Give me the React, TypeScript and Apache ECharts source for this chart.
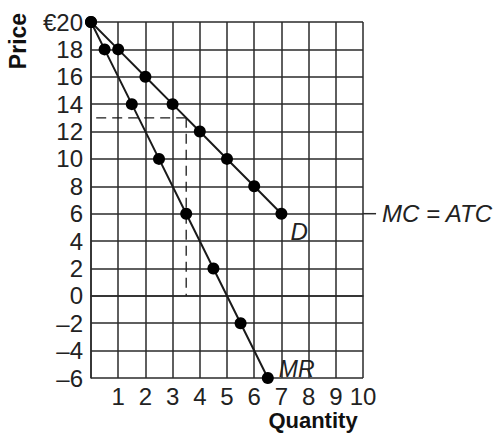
import React, { useEffect, useRef } from "react";
import * as echarts from "echarts";

const xTicks = [0, 1, 2, 3, 4, 5, 6, 7, 8, 9, 10];
const yTicks = [-6, -4, -2, 0, 2, 4, 6, 8, 10, 12, 14, 16, 18, 20];
const demandQ = [0, 1, 2, 3, 4, 5, 6, 7];
const demandP = [20, 18, 16, 14, 12, 10, 8, 6];
const mrQ = [0, 0.5, 1.5, 2.5, 3.5, 4.5, 5.5, 6.5];
const mrP = [20, 18, 14, 10, 6, 2, -2, -6];
const mcAtc = 6;
const mcLineEndQ = 10.48;
const profitQ = 3.5;
const profitP = 13;

export default function App() {
  const ref = useRef<HTMLDivElement>(null);
  useEffect(() => {
    if (!ref.current) return;
    const chart = echarts.init(ref.current, undefined, { renderer: "svg" });
    const font = "Liberation Sans, Arial, sans-serif";
    const lineC = "#1a1a1a";
    const gridC = "#2a2a2a";
    const dLast = demandQ.length - 1;
    const mLast = mrQ.length - 1;
    chart.setOption({
      animation: false,
      backgroundColor: "#ffffff",
      grid: { left: 91, right: 137, top: 22, bottom: 55, containLabel: false },
      xAxis: {
        type: "value",
        min: xTicks[0],
        max: xTicks[xTicks.length - 1],
        interval: 1,
        axisLine: { show: true, lineStyle: { color: gridC, width: 1.5 } },
        axisTick: { show: false },
        splitLine: { show: true, lineStyle: { color: gridC, width: 1.5 } },
        axisLabel: {
          color: "#222",
          fontFamily: font,
          fontSize: 24,
          margin: 6,
          formatter: (v: number) => (v === 0 ? "" : String(v)),
        },
      },
      yAxis: {
        type: "value",
        min: yTicks[0],
        max: yTicks[yTicks.length - 1],
        interval: 2,
        axisLine: { show: true, lineStyle: { color: gridC, width: 1.5 } },
        axisTick: { show: false },
        splitLine: { show: true, lineStyle: { color: gridC, width: 1.5 } },
        axisLabel: {
          color: "#222",
          fontFamily: font,
          fontSize: 24,
          margin: 8,
          formatter: (v: number) =>
            v === 20 ? "€20" : v < 0 ? "–" + Math.abs(v) : String(v),
        },
      },
      series: [
        {
          type: "line",
          data: [
            [profitQ, profitP],
            [xTicks[0], profitP],
          ],
          symbol: "none",
          lineStyle: { color: lineC, width: 1.3, type: [10, 6] },
          z: 3,
        },
        {
          type: "line",
          data: [
            [profitQ, profitP],
            [profitQ, 0],
          ],
          symbol: "none",
          lineStyle: { color: lineC, width: 1.3, type: [10, 6] },
          z: 3,
        },
        {
          type: "line",
          name: "D",
          data: demandQ.map((q, i) =>
            i === dLast
              ? {
                  value: [q, demandP[i]],
                  label: {
                    show: true,
                    formatter: "D",
                    position: "right",
                    offset: [-2, 18],
                    fontFamily: font,
                    fontStyle: "italic",
                    fontSize: 24,
                    color: "#222",
                  },
                }
              : [q, demandP[i]]
          ),
          symbol: "circle",
          symbolSize: 12,
          itemStyle: { color: "#000" },
          lineStyle: { color: lineC, width: 2 },
          z: 5,
        },
        {
          type: "line",
          name: "MR",
          data: mrQ.map((q, i) =>
            i === mLast
              ? {
                  value: [q, mrP[i]],
                  label: {
                    show: true,
                    formatter: "MR",
                    position: "right",
                    offset: [0, -9],
                    fontFamily: font,
                    fontStyle: "italic",
                    fontSize: 23,
                    color: "#222",
                  },
                }
              : [q, mrP[i]]
          ),
          symbol: "circle",
          symbolSize: 12,
          itemStyle: { color: "#000" },
          lineStyle: { color: lineC, width: 2 },
          z: 5,
        },
      ],
    });
    const p1 = chart.convertToPixel({ gridIndex: 0 }, [xTicks[xTicks.length - 1], mcAtc]) as number[];
    const p2 = chart.convertToPixel({ gridIndex: 0 }, [mcLineEndQ, mcAtc]) as number[];
    chart.setOption({
      graphic: [
        {
          type: "line",
          shape: { x1: p1[0], y1: p1[1], x2: p2[0], y2: p2[1] },
          style: { stroke: gridC, lineWidth: 1.5 },
        },
        {
          type: "text",
          x: 18,
          y: 41,
          rotation: Math.PI / 2,
          style: {
            text: "Price",
            fontFamily: font,
            fontWeight: "bold",
            fontSize: 23,
            fill: "#111",
            align: "center",
            verticalAlign: "middle",
          },
        },
        {
          type: "text",
          x: 313,
          y: 420,
          style: {
            text: "Quantity",
            fontFamily: font,
            fontWeight: "bold",
            fontSize: 22,
            fill: "#111",
            align: "center",
            verticalAlign: "middle",
          },
        },
        {
          type: "text",
          x: p2[0] + 6,
          y: p2[1],
          style: {
            text: "MC = ATC",
            fontFamily: font,
            fontStyle: "italic",
            fontSize: 24,
            fill: "#222",
            align: "left",
            verticalAlign: "middle",
          },
        },
      ],
    });
    return () => chart.dispose();
  }, []);
  return (
    <div
      ref={ref}
      style={{ position: "fixed", left: 0, top: 0, width: 500, height: 433 }}
    />
  );
}
